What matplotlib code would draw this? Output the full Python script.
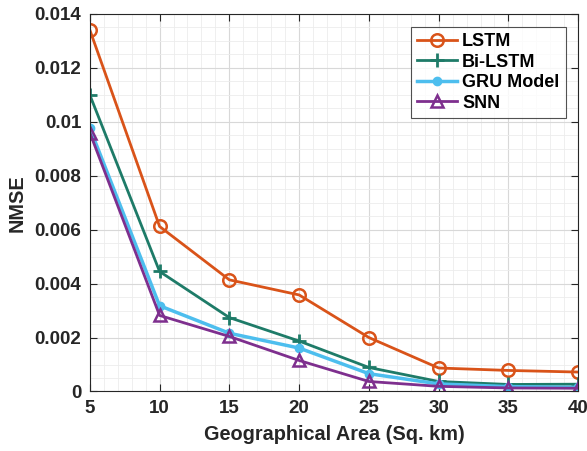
import numpy as np
import matplotlib.pyplot as plt
from matplotlib.ticker import MultipleLocator

plt.rcParams['font.family'] = ['Liberation Sans', 'DejaVu Sans']
plt.rcParams['font.weight'] = 'bold'

# Geographical area (sq. km) and NMSE per model
area = [5, 10, 15, 20, 25, 30, 35, 40]
lstm = [0.01341, 0.00612, 0.00414, 0.00358, 0.00200, 0.00087, 0.00078, 0.00072]
bilstm = [0.01100, 0.00445, 0.00274, 0.00187, 0.00089, 0.00037, 0.00026, 0.00027]
gru = [0.00977, 0.00318, 0.00216, 0.00161, 0.00066, 0.00028, 0.00018, 0.00015]
snn = [0.00960, 0.00282, 0.00204, 0.00115, 0.00037, 0.00019, 0.00013, 0.00012]

fig = plt.figure(figsize=(5.87, 4.51), dpi=100)
ax = fig.add_axes([0.153, 0.132, 0.832, 0.837])

ax.plot(area, lstm, color='#D95319', lw=2, marker='o', ms=9, mfc='none', mew=1.8, label='LSTM')
ax.plot(area, bilstm, color='#1E7B68', lw=2, marker='+', ms=10, mew=2, label='Bi-LSTM')
ax.plot(area, gru, color='#4DBEEE', lw=2.5, marker='o', ms=6, label='GRU Model')
ax.plot(area, snn, color='#7E2F8E', lw=2, marker='^', ms=9, mfc='none', mew=1.8, label='SNN')

ax.set_xlim(5, 40)
ax.set_ylim(0, 0.014)
ax.xaxis.set_major_locator(MultipleLocator(5))
ax.xaxis.set_minor_locator(MultipleLocator(1))
ax.yaxis.set_major_locator(MultipleLocator(0.002))
ax.yaxis.set_minor_locator(MultipleLocator(0.0005))
ax.set_yticks(np.arange(0, 0.0141, 0.002))
ax.set_yticklabels(['0', '0.002', '0.004', '0.006', '0.008', '0.01', '0.012', '0.014'])

ax.grid(True, which='major', color='#d8d8d8', lw=0.8)
ax.grid(True, which='minor', color='#ececec', lw=0.6)
ax.set_axisbelow(True)
ax.tick_params(which='both', direction='in', top=True, right=True, labelsize=13.5,
               colors='#262626', pad=6)
ax.tick_params(which='minor', length=0)
ax.tick_params(which='major', length=5)
for s in ax.spines.values():
    s.set_color('#262626')
    s.set_linewidth(0.8)

ax.set_xlabel('Geographical Area (Sq. km)', fontsize=14.3, fontweight='bold', color='#262626', labelpad=6)
ax.set_ylabel('NMSE', fontsize=14.3, fontweight='bold', color='#262626', labelpad=6)

leg = ax.legend(loc='upper right', fontsize=13, frameon=True, fancybox=False,
                edgecolor='#262626', handlelength=2.2, borderaxespad=0.7,
                labelspacing=0.2, handletextpad=0.3, borderpad=0.35)
leg.get_frame().set_linewidth(0.8)

fig.savefig('out.png', dpi=100)
